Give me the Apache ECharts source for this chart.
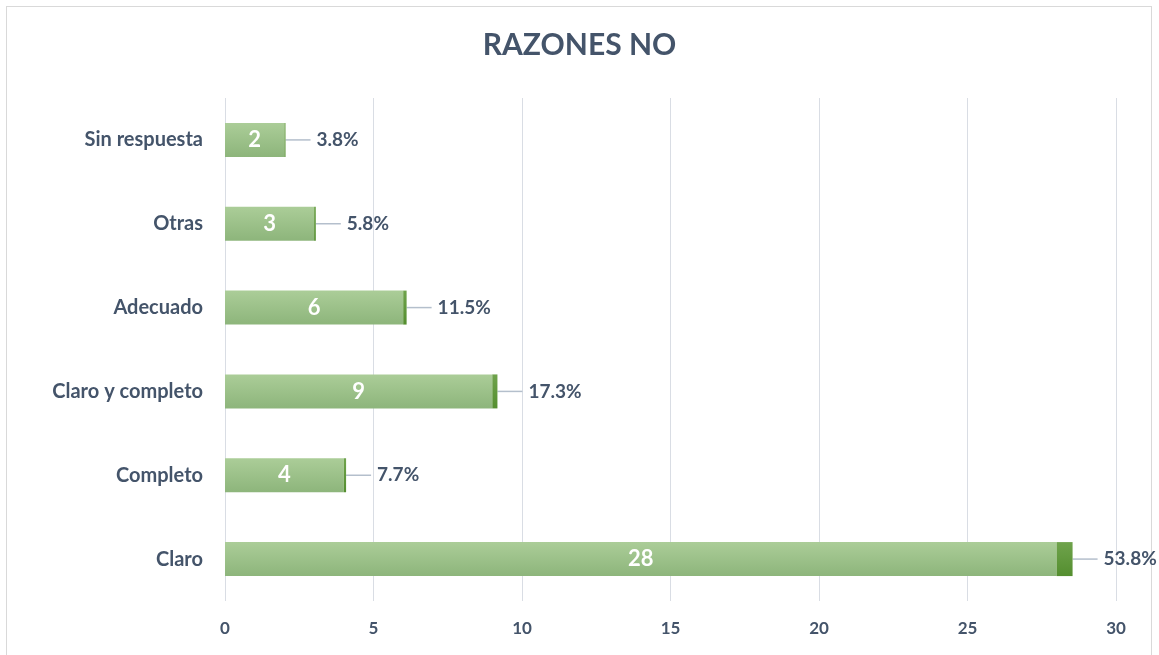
<!DOCTYPE html>
<html>
<head>
<meta charset="utf-8">
<script src="https://cdn.jsdelivr.net/npm/echarts@6/dist/echarts.min.js"></script>
<style>
  html, body { margin: 0; padding: 0; background: #fff; }
  #frame { position: absolute; left: 6px; top: 6px; width: 1146px; height: 660px; border: 1px solid #d9d9d9; box-sizing: border-box; }
  #main { position: absolute; left: 0; top: 0; width: 1159px; height: 655px; }
</style>
</head>
<body>
<div id="frame"></div>
<div id="main"></div>
<script>
// categorias de abajo hacia arriba
var categorias = ['Claro', 'Completo', 'Claro y completo', 'Adecuado', 'Otras', 'Sin respuesta'];
var cantidades = [28, 4, 9, 6, 3, 2];
var porcentajes = [53.8, 7.7, 17.3, 11.5, 5.8, 3.8];
var ticks = [0, 5, 10, 15, 20, 25, 30];

var texto = '#44546a';
var fuente = 'Lato, "Open Sans", sans-serif';

var chart = echarts.init(document.getElementById('main'));
chart.setOption({
  animation: false,
  title: {
    text: 'RAZONES NO',
    left: 'center',
    top: 25,
    textStyle: { color: texto, fontSize: 30, fontWeight: 'bold', fontFamily: fuente }
  },
  grid: { left: 225, right: 43, top: 98, bottom: 54 },
  xAxis: {
    type: 'value',
    min: ticks[0],
    max: ticks[ticks.length - 1],
    interval: 5,
    axisLine: { show: false },
    axisTick: { show: false },
    splitLine: { lineStyle: { color: '#d9dde4', width: 1 } },
    axisLabel: { color: texto, fontSize: 17, fontWeight: 'bold', fontFamily: fuente, margin: 19 }
  },
  yAxis: {
    type: 'category',
    data: categorias,
    axisLine: { show: false },
    axisTick: { show: false },
    axisLabel: { color: texto, fontSize: 20, fontWeight: 'bold', fontFamily: fuente, margin: 22 }
  },
  series: [
    {
      type: 'bar',
      stack: 'total',
      barWidth: 34,
      data: cantidades,
      itemStyle: {
        color: new echarts.graphic.LinearGradient(0, 0, 0, 1, [
          { offset: 0, color: '#abcd98' },
          { offset: 1, color: '#8db57b' }
        ])
      },
      label: {
        show: true,
        position: 'inside',
        color: '#fff',
        fontSize: 22,
        fontWeight: 'bold',
        fontFamily: fuente
      }
    },
    {
      type: 'bar',
      stack: 'total',
      barWidth: 34,
      data: porcentajes.map(function (p) { return p / 100; }),
      itemStyle: {
        color: new echarts.graphic.LinearGradient(0, 0, 0, 1, [
          { offset: 0, color: '#6fa34c' },
          { offset: 1, color: '#548e2f' }
        ])
      },
      label: {
        show: true,
        position: 'right',
        distance: 0,
        color: texto,
        fontSize: 19,
        fontWeight: 'bold',
        fontFamily: fuente,
        formatter: function (p) { return '{g|}{t|' + porcentajes[p.dataIndex].toFixed(1) + '%}'; },
        rich: {
          g: { width: 6 },
          t: { color: texto, fontSize: 19, fontWeight: 'bold', fontFamily: fuente }
        }
      },
      labelLayout: { dx: 25 },
      labelLine: { show: true, lineStyle: { color: '#b4bfcc', width: 1.5 } }
    }
  ]
});
</script>
</body>
</html>
